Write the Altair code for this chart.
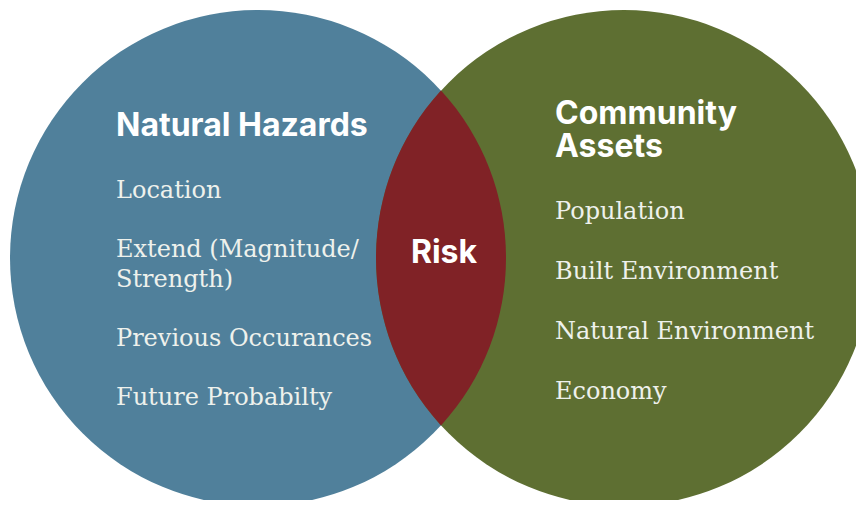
import math
import altair as alt
import pandas as pd

# ---- data ----
set_names = ["Natural Hazards", "Community Assets"]
set_colors = ["#50809b", "#5e6f32"]
intersection_name = "Risk"
intersection_color = "#802226"
left_items = ["Location", "Extend (Magnitude/\nStrength)", "Previous Occurances", "Future Probabilty"]
right_items = ["Population", "Built Environment", "Natural Environment", "Economy"]
left_title = "Natural Hazards"
right_title = "Community\nAssets"

# ---- layout (pixels inside the chart) ----
W, H = 848, 492
R = 248
CX = [250, 616]
CY = 250
D = CX[1] - CX[0]
half_chord = math.sqrt(R * R - (D / 2) ** 2)
lens_path = (
    f"M0,{-half_chord:.2f}A{R},{R},0,0,1,0,{half_chord:.2f}"
    f"A{R},{R},0,0,1,0,{-half_chord:.2f}Z"
)

xs = alt.Scale(domain=[0, W], range=[0, W])
ys = alt.Scale(domain=[0, H], range=[0, H])

circles = pd.DataFrame({"name": set_names, "x": CX, "y": [CY, CY], "color": set_colors})
circle_layer = alt.Chart(circles).mark_point(
    shape="circle", filled=True, opacity=1, size=(2 * R) ** 2, strokeWidth=0
).encode(
    x=alt.X("x:Q", scale=xs, axis=None),
    y=alt.Y("y:Q", scale=ys, axis=None),
    color=alt.Color("color:N", scale=None, legend=None),
)

lens = pd.DataFrame({"name": [intersection_name], "x": [(CX[0] + CX[1]) / 2], "y": [CY]})
lens_layer = alt.Chart(lens).mark_point(
    shape=lens_path, filled=True, opacity=1, size=4, color=intersection_color, strokeWidth=0
).encode(x=alt.X("x:Q", scale=xs), y=alt.Y("y:Q", scale=ys))

risk_layer = alt.Chart(lens).mark_text(
    font="Inter", fontWeight=700, fontSize=32, color="#ffffff", align="center",
    baseline="alphabetic", dx=3
).encode(x=alt.X("x:Q", scale=xs), y=alt.value(255), text="name:N")

# titles (multi-line via lineBreak)
titles = pd.DataFrame({
    "text": [left_title, right_title],
    "x": [108, 547],
    "y": [128, 116],
})
title_layer = alt.Chart(titles).mark_text(
    font="Inter", fontWeight=700, fontSize=32, color="#ffffff", align="left",
    baseline="alphabetic", lineBreak="\n", lineHeight=33
).encode(x=alt.X("x:Q", scale=xs), y=alt.Y("y:Q", scale=ys), text="text:N")

# items
item_rows = []
def add_items(items, x0, y0, step, lh):
    extra = 0
    for i, t in enumerate(items):
        item_rows.append({"text": t, "x": x0, "y": y0 + i * step + extra * lh})
        extra += t.count("\n")
add_items(left_items, 108, 190, 59, 30)
add_items(right_items, 547, 211, 60, 30)
items_df = pd.DataFrame(item_rows)
item_layer = alt.Chart(items_df).mark_text(
    font="DejaVu Serif", fontWeight=300, fontSize=24, color="#eef1ec", align="left",
    baseline="alphabetic", lineBreak="\n", lineHeight=30
).encode(x=alt.X("x:Q", scale=xs), y=alt.Y("y:Q", scale=ys), text="text:N")

chart = alt.layer(circle_layer, lens_layer, risk_layer, title_layer, item_layer).properties(
    width=W, height=H, padding=0,
    autosize=alt.AutoSizeParams(type="fit", contains="padding"),
    background="#ffffff",
).configure_view(stroke=None)

chart.save("out.html", embed_options={"renderer": "svg", "actions": False})
